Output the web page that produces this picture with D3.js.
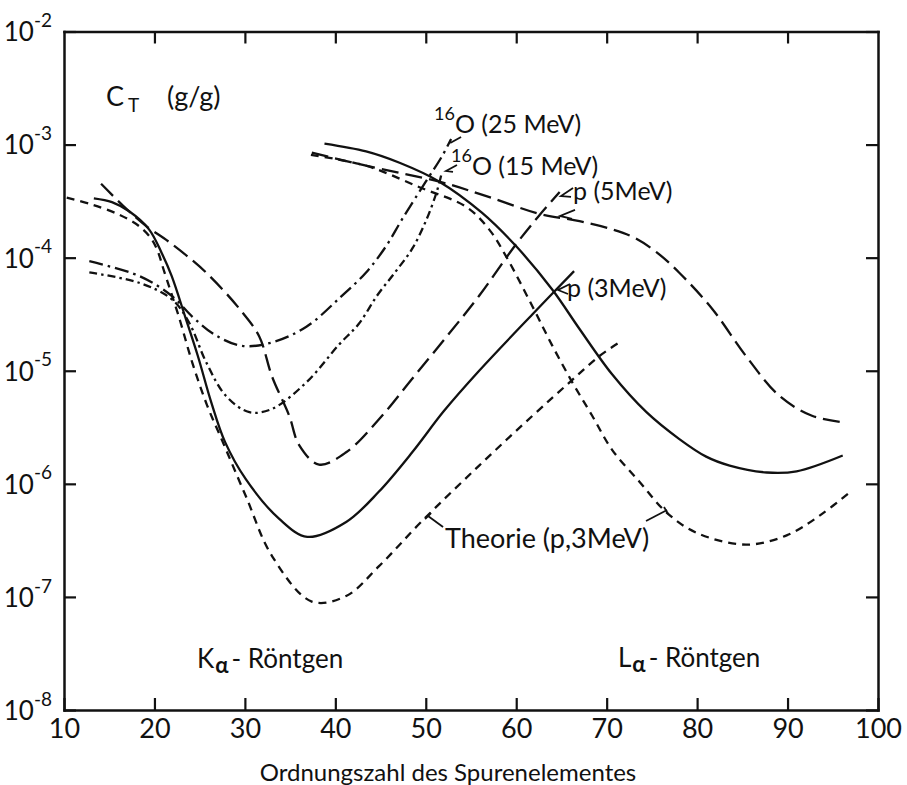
<!DOCTYPE html>
<html><head><meta charset="utf-8">
<script src="https://cdn.jsdelivr.net/npm/d3@7/dist/d3.min.js"></script>
<style>
body{margin:0;background:#fff;}
svg text{font-family:Lato,"DejaVu Sans",sans-serif;fill:#111;}
</style></head><body>
<svg id="chart" width="907" height="785"></svg>
<script>
// ---------- data ----------
const xTickValues = [10,20,30,40,50,60,70,80,90,100];
const xTopTicks   = [20,30,40,50,60,70,80,90];
const yTickValues = [1e-2,1e-3,1e-4,1e-5,1e-6,1e-7,1e-8];

// p (3 MeV) – solid, K branch
const p3K_Z = [13.3,15.3,17.2,19.4,20.8,21.9,23.4,24.8,26.3,27.8,30.1,33.8,36.9,41.2,44.8,48.5,52.0,55.9,61.8,66.4];
const p3K_C = [3.35e-4,3.1e-4,2.57e-4,1.78e-4,1.1e-4,6.9e-5,3.0e-5,1.35e-5,5.2e-6,2.35e-6,1.1e-6,4.9e-7,3.4e-7,4.6e-7,8.5e-7,1.9e-6,4.4e-6,1.0e-5,3.16e-5,7.6e-5];
// p (3 MeV) – solid, L branch
const p3L_Z = [38.8,43.4,47.1,51.5,56.2,60.0,64.0,67.0,70.6,74.4,78.0,81.0,83.6,87.7,91.0,96.1];
const p3L_C = [1.02e-3,8.7e-4,6.9e-4,4.7e-4,2.5e-4,1.26e-4,5.2e-5,2.34e-5,9.3e-6,4.3e-6,2.5e-6,1.74e-6,1.45e-6,1.26e-6,1.29e-6,1.78e-6];
// p (5 MeV) – long dashes, K branch
const p5K_Z = [14.1,16.9,19.1,21.6,25.7,29.7,31.6,33.0,34.9,36.0,38.2,41.2,44.8,48.5,52.3,55.9,60.0,62.5,64.8];
const p5K_C = [4.5e-4,2.7e-4,1.9e-4,1.38e-4,7.4e-5,3.3e-5,2.0e-5,8.9e-6,4.0e-6,2.2e-6,1.48e-6,1.9e-6,3.7e-6,8.5e-6,2.0e-5,4.6e-5,1.32e-4,2.34e-4,3.8e-4];
// p (5 MeV) – long dashes, L branch
const p5L_Z = [37.4,43.4,51.5,56.7,62.5,67.0,70.6,73.0,75.5,78.0,81.7,85.4,89.1,92.7,96.1];
const p5L_C = [8.5e-4,6.5e-4,4.7e-4,3.5e-4,2.45e-4,2.1e-4,1.78e-4,1.51e-4,1.12e-4,7.4e-5,3.5e-5,1.35e-5,6.0e-6,4.0e-6,3.5e-6];
// Theorie (p, 3 MeV) – short dashes, K branch
const thK_Z = [10.3,13.1,16.1,18.3,19.7,20.4,21.0,22.7,24.2,25.8,27.5,30.1,33.0,37.4,41.2,44.8,49.6,55.9,61.8,65.9,69.2,71.4];
const thK_C = [3.4e-4,2.95e-4,2.4e-4,1.9e-4,1.45e-4,1.12e-4,7.9e-5,3.0e-5,1.17e-5,5.0e-6,2.4e-6,7.8e-7,2.3e-7,9.1e-8,1.02e-7,1.86e-7,4.7e-7,1.45e-6,4.0e-6,7.9e-6,1.35e-5,1.78e-5];
// Theorie (p, 3 MeV) – short dashes, L branch
const thL_Z = [37.3,43.4,49.3,54.5,57.0,58.9,61.8,64.0,66.2,68.4,70.6,73.6,76.6,79.9,85.4,89.9,93.5,97.1];
const thL_C = [8.1e-4,6.5e-4,4.2e-4,2.8e-4,1.78e-4,1.02e-4,3.7e-5,1.66e-5,7.9e-6,4.0e-6,2.0e-6,1.05e-6,5.6e-7,3.7e-7,2.9e-7,3.5e-7,5.2e-7,8.7e-7];
// 16O (25 MeV) – dash-dot
const o25_Z = [12.8,18.3,21.9,24.2,26.8,29.7,33.0,36.8,40.6,43.4,45.6,47.4,50.0,51.8,52.8];
const o25_C = [9.3e-5,6.9e-5,4.6e-5,3.0e-5,2.05e-5,1.66e-5,1.78e-5,2.45e-5,4.5e-5,7.4e-5,1.26e-4,2.2e-4,4.7e-4,7.9e-4,1.12e-3];
// 16O (15 MeV) – short dash-dot
const o15_Z = [12.8,18.3,21.9,23.8,25.7,27.9,30.5,33.0,36.8,40.4,42.6,44.6,46.7,48.5,50.0,51.2,51.8];
const o15_C = [7.4e-5,6.0e-5,4.3e-5,2.7e-5,1.2e-5,6.0e-6,4.3e-6,4.6e-6,7.9e-6,1.7e-5,2.6e-5,4.6e-5,7.6e-5,1.2e-4,2.1e-4,3.8e-4,5.75e-4];

// label pointers: [Z, log10 C]
const ptr25  = [[53.9,-2.933],[52.7,-2.986]];
const ptr15  = [[53.45,-3.18],[52.24,-3.234],[53.01,-3.242]];
const ptr5a  = [[66.28,-3.384],[64.95,-3.455],[66.06,-3.463]];
const ptr5b  = [[66.5,-3.578],[64.84,-3.631],[66.17,-3.658]];
const ptr3   = [[65.95,-4.233],[64.62,-4.286],[65.73,-4.321]];
const ptrThL = [[51.91,-6.382],[50.25,-6.285]];
const ptrThLt= [[49.92,-6.311],[50.58,-6.258]];
const ptrThR = [[74.35,-6.329],[76.68,-6.232]];
const ptrThRt= [[76.34,-6.205],[76.79,-6.267]];

// ---------- drawing ----------
const INK = "#111";
const FONT = 'Lato,"DejaVu Sans",sans-serif';
const svg = d3.select("#chart");
svg.append("rect").attr("width",907).attr("height",785).attr("fill","#fff");

const x = d3.scaleLinear().domain([10,100]).range([64,878]);
const y = d3.scaleLog().domain([1e-8,1e-2]).range([710,31.5]);

function styleAxis(g){
  g.selectAll("path.domain").attr("stroke",INK).attr("stroke-width",2.5).attr("stroke-linecap","square");
  g.selectAll(".tick line").attr("stroke",INK).attr("stroke-width",2.2);
  g.selectAll(".tick text").attr("fill",INK).attr("font-family",FONT);
}

const gB = svg.append("g").attr("transform",`translate(0,${y(1e-8)})`)
  .call(d3.axisBottom(x).tickValues(xTickValues).tickSize(-12).tickSizeOuter(0).tickPadding(9).tickFormat(d3.format("d")));
styleAxis(gB);
gB.selectAll(".tick text").attr("font-size",27);

const gT = svg.append("g").attr("transform",`translate(0,${y(1e-2)})`)
  .call(d3.axisTop(x).tickValues(xTopTicks).tickSize(-12).tickSizeOuter(0).tickFormat(""));
styleAxis(gT);

const gL = svg.append("g").attr("transform",`translate(${x(10)},0)`)
  .call(d3.axisLeft(y).tickValues(yTickValues).tickSize(-12).tickSizeOuter(0).tickPadding(12));
styleAxis(gL);
gL.selectAll(".tick text").each(function(d){
  const t = d3.select(this);
  const e = Math.round(Math.log10(d));
  t.text(null).attr("font-size",26).attr("dy","0.36em");
  t.append("tspan").text("10");
  t.append("tspan").attr("font-size",19).attr("dy","-0.75em").text(String(e));
});

const gR = svg.append("g").attr("transform",`translate(${x(100)},0)`)
  .call(d3.axisRight(y).tickValues(yTickValues).tickSize(-12).tickSizeOuter(0).tickFormat(""));
styleAxis(gR);

// curves
const zip = (Z,C) => Z.map((z,i)=>[z,C[i]]);
const line = d3.line().x(d=>x(d[0])).y(d=>y(d[1])).curve(d3.curveCatmullRom.alpha(0.5));
const curves = [
  {d: zip(p3K_Z,p3K_C), dash: null},
  {d: zip(p3L_Z,p3L_C), dash: null},
  {d: zip(p5K_Z,p5K_C), dash: "17,7"},
  {d: zip(p5L_Z,p5L_C), dash: "17,7"},
  {d: zip(thK_Z,thK_C), dash: "8,6"},
  {d: zip(thL_Z,thL_C), dash: "8,6"},
  {d: zip(o25_Z,o25_C), dash: "14,5,2.5,5"},
  {d: zip(o15_Z,o15_C), dash: "8,4,2.5,4"}
];
svg.append("g").selectAll("path").data(curves).join("path")
  .attr("d",c=>line(c.d))
  .attr("fill","none").attr("stroke",INK).attr("stroke-width",2.3)
  .attr("stroke-dasharray",c=>c.dash);

// pointers
const pline = d3.line().x(d=>x(d[0])).y(d=>y(Math.pow(10,d[1])));
svg.append("g").selectAll("path").data([ptr25,ptr15,ptr5a,ptr5b,ptr3,ptrThL,ptrThLt,ptrThR,ptrThRt]).join("path")
  .attr("d",pline).attr("fill","none").attr("stroke",INK).attr("stroke-width",1.8);

// texts
function txt(xp,yp,size){ return svg.append("text").attr("x",xp).attr("y",yp).attr("font-size",size).attr("font-family",FONT); }

let t = txt(106,106,27);
t.append("tspan").text("C");
t.append("tspan").attr("font-size",19).attr("dx",4).attr("dy",6).text("T");
t.append("tspan").attr("x",167).attr("dy",-6).text("(g/g)");

t = txt(434,133,25);
t.append("tspan").attr("font-size",18).attr("dy",-13).text("16");
t.append("tspan").attr("dy",13).text("O (25 MeV)");

t = txt(451,175,25);
t.append("tspan").attr("font-size",18).attr("dy",-13).text("16");
t.append("tspan").attr("dy",13).text("O (15 MeV)");

txt(573,200,25).text("p (5MeV)");
txt(567,297,25).text("p (3MeV)");
txt(445,548,27).text("Theorie (p,3MeV)");

t = txt(197,668,26);
t.append("tspan").text("K");
t.append("tspan").attr("font-size",22).attr("dy",5).attr("dx",1).attr("font-weight","bold").text("α");
t.append("tspan").attr("dy",-5).attr("dx",3).text("- Röntgen");

t = txt(618,667,26);
t.append("tspan").text("L");
t.append("tspan").attr("font-size",22).attr("dy",5).attr("dx",1).attr("font-weight","bold").text("α");
t.append("tspan").attr("dy",-5).attr("dx",3).text("- Röntgen");

txt(448,781,24).attr("text-anchor","middle").text("Ordnungszahl des Spurenelementes");
</script>
</body></html>
